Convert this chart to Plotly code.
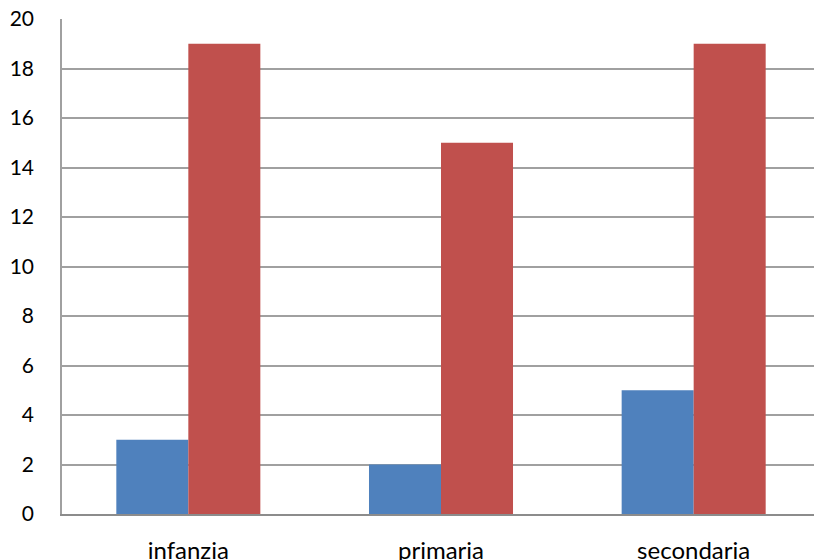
import plotly.graph_objects as go

categories = ["infanzia", "primaria", "secondaria"]
serie_blu = [3, 2, 5]
serie_rossa = [19, 15, 19]
y_ticks = [0, 2, 4, 6, 8, 10, 12, 14, 16, 18, 20]

fig = go.Figure()
fig.add_trace(go.Bar(x=categories, y=serie_blu, marker=dict(color="#4F81BD", line=dict(width=0)), name="Serie1"))
fig.add_trace(go.Bar(x=categories, y=serie_rossa, marker=dict(color="#C0504D", line=dict(width=0)), name="Serie2"))

fig.update_layout(
    width=820, height=560,
    margin=dict(l=62, r=0, t=19, b=46),
    plot_bgcolor="white", paper_bgcolor="white",
    barmode="group", bargap=0.43, bargroupgap=0,
    showlegend=False,
    font=dict(family="Lato, Noto Sans, sans-serif", size=21, color="#000000"),
)
fig.update_xaxes(
    showline=True, linecolor="#8C8C8C", linewidth=2,
    showgrid=False, ticks="", ticklabelstandoff=14,
    tickfont=dict(size=24), automargin=False,
)
fig.update_yaxes(
    range=[0, 20], tickvals=y_ticks,
    showgrid=True, gridcolor="#A0A0A0", gridwidth=1.5,
    showline=True, linecolor="#A0A0A0", linewidth=1.5,
    zeroline=False, ticks="", ticklabelstandoff=22,
    tickfont=dict(size=21), automargin=False,
)

html = fig.to_html(include_plotlyjs=True, full_html=True, config={"displayModeBar": False})
html = html.replace("<head>", "<head><style>html,body{margin:0;padding:0;overflow:hidden;}</style>", 1)
with open("out.html", "w", encoding="utf-8") as f:
    f.write(html)
